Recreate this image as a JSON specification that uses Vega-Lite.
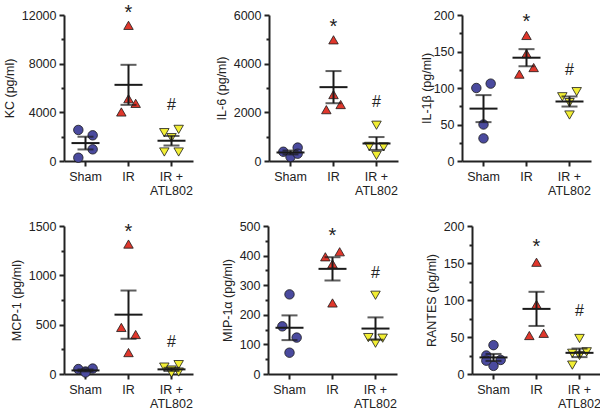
{
  "$schema": "https://vega.github.io/schema/vega-lite/v6.json",
  "padding": {"left": 3, "top": 2, "right": 0, "bottom": 0},
  "background": "white",
  "datasets": {
    "pts": [
      {"panel": "KC", "group": "Sham", "value": 2550, "lane": -1},
      {"panel": "KC", "group": "Sham", "value": 2110, "lane": 1},
      {"panel": "KC", "group": "Sham", "value": 960, "lane": 1},
      {"panel": "KC", "group": "Sham", "value": 270, "lane": -1},
      {"panel": "KC", "group": "IR", "value": 11150, "lane": 0},
      {"panel": "KC", "group": "IR", "value": 5120, "lane": 0},
      {"panel": "KC", "group": "IR", "value": 4740, "lane": 1},
      {"panel": "KC", "group": "IR", "value": 4030, "lane": -1},
      {"panel": "KC", "group": "IR + ATL802", "value": 2330, "lane": -1},
      {"panel": "KC", "group": "IR + ATL802", "value": 2600, "lane": 1},
      {"panel": "KC", "group": "IR + ATL802", "value": 1920, "lane": 0},
      {"panel": "KC", "group": "IR + ATL802", "value": 740, "lane": -1},
      {"panel": "KC", "group": "IR + ATL802", "value": 740, "lane": 1},

      {"panel": "IL6", "group": "Sham", "value": 380, "lane": -1},
      {"panel": "IL6", "group": "Sham", "value": 170, "lane": 0},
      {"panel": "IL6", "group": "Sham", "value": 550, "lane": 1},
      {"panel": "IL6", "group": "Sham", "value": 300, "lane": 1},
      {"panel": "IL6", "group": "IR", "value": 4980, "lane": 0},
      {"panel": "IL6", "group": "IR", "value": 2730, "lane": 0},
      {"panel": "IL6", "group": "IR", "value": 2320, "lane": 1},
      {"panel": "IL6", "group": "IR", "value": 2110, "lane": -1},
      {"panel": "IL6", "group": "IR + ATL802", "value": 1470, "lane": 0},
      {"panel": "IL6", "group": "IR + ATL802", "value": 600, "lane": -1},
      {"panel": "IL6", "group": "IR + ATL802", "value": 580, "lane": 1},
      {"panel": "IL6", "group": "IR + ATL802", "value": 230, "lane": 0},

      {"panel": "IL1b", "group": "Sham", "value": 100, "lane": -1},
      {"panel": "IL1b", "group": "Sham", "value": 106, "lane": 1},
      {"panel": "IL1b", "group": "Sham", "value": 50, "lane": 0},
      {"panel": "IL1b", "group": "Sham", "value": 31, "lane": 0},
      {"panel": "IL1b", "group": "IR", "value": 172, "lane": 0},
      {"panel": "IL1b", "group": "IR", "value": 147, "lane": 0},
      {"panel": "IL1b", "group": "IR", "value": 128, "lane": 1},
      {"panel": "IL1b", "group": "IR", "value": 119, "lane": -1},
      {"panel": "IL1b", "group": "IR + ATL802", "value": 88, "lane": -1},
      {"panel": "IL1b", "group": "IR + ATL802", "value": 95, "lane": 1},
      {"panel": "IL1b", "group": "IR + ATL802", "value": 63, "lane": 0},
      {"panel": "IL1b", "group": "IR + ATL802", "value": 80, "lane": 0},

      {"panel": "MCP1", "group": "Sham", "value": 50, "lane": -1},
      {"panel": "MCP1", "group": "Sham", "value": 25, "lane": 0},
      {"panel": "MCP1", "group": "Sham", "value": 55, "lane": 1},
      {"panel": "MCP1", "group": "Sham", "value": 15, "lane": 0},
      {"panel": "MCP1", "group": "IR", "value": 1317, "lane": 0},
      {"panel": "MCP1", "group": "IR", "value": 472, "lane": -1},
      {"panel": "MCP1", "group": "IR", "value": 400, "lane": 1},
      {"panel": "MCP1", "group": "IR", "value": 217, "lane": 0},
      {"panel": "MCP1", "group": "IR + ATL802", "value": 70, "lane": -1},
      {"panel": "MCP1", "group": "IR + ATL802", "value": 95, "lane": 1},
      {"panel": "MCP1", "group": "IR + ATL802", "value": 40, "lane": 0},
      {"panel": "MCP1", "group": "IR + ATL802", "value": 10, "lane": 0},
      {"panel": "MCP1", "group": "IR + ATL802", "value": 20, "lane": 1},

      {"panel": "MIP1a", "group": "Sham", "value": 269, "lane": 0},
      {"panel": "MIP1a", "group": "Sham", "value": 161, "lane": -1},
      {"panel": "MIP1a", "group": "Sham", "value": 123, "lane": 1},
      {"panel": "MIP1a", "group": "Sham", "value": 72, "lane": 0},
      {"panel": "MIP1a", "group": "IR", "value": 396, "lane": -1},
      {"panel": "MIP1a", "group": "IR", "value": 413, "lane": 1},
      {"panel": "MIP1a", "group": "IR", "value": 372, "lane": 0},
      {"panel": "MIP1a", "group": "IR", "value": 240, "lane": 0},
      {"panel": "MIP1a", "group": "IR + ATL802", "value": 266, "lane": 0},
      {"panel": "MIP1a", "group": "IR + ATL802", "value": 123, "lane": -1},
      {"panel": "MIP1a", "group": "IR + ATL802", "value": 121, "lane": 1},
      {"panel": "MIP1a", "group": "IR + ATL802", "value": 104, "lane": 0},

      {"panel": "RANTES", "group": "Sham", "value": 39, "lane": 0},
      {"panel": "RANTES", "group": "Sham", "value": 25, "lane": -1},
      {"panel": "RANTES", "group": "Sham", "value": 19, "lane": 1},
      {"panel": "RANTES", "group": "Sham", "value": 11, "lane": 0},
      {"panel": "RANTES", "group": "Sham", "value": 18, "lane": -1},
      {"panel": "RANTES", "group": "IR", "value": 151, "lane": 0},
      {"panel": "RANTES", "group": "IR", "value": 94, "lane": 0},
      {"panel": "RANTES", "group": "IR", "value": 52, "lane": -1},
      {"panel": "RANTES", "group": "IR", "value": 55, "lane": 1},
      {"panel": "RANTES", "group": "IR + ATL802", "value": 48, "lane": 0},
      {"panel": "RANTES", "group": "IR + ATL802", "value": 28, "lane": -1},
      {"panel": "RANTES", "group": "IR + ATL802", "value": 30, "lane": 1},
      {"panel": "RANTES", "group": "IR + ATL802", "value": 25, "lane": 0},
      {"panel": "RANTES", "group": "IR + ATL802", "value": 12, "lane": -1}
    ],
    "ann": [
      {"panel": "KC", "group": "IR", "value": 12600, "label": "*"},
      {"panel": "KC", "group": "IR + ATL802", "value": 4700, "label": "#"},
      {"panel": "IL6", "group": "IR", "value": 5700, "label": "*"},
      {"panel": "IL6", "group": "IR + ATL802", "value": 2450, "label": "#"},
      {"panel": "IL1b", "group": "IR", "value": 197, "label": "*"},
      {"panel": "IL1b", "group": "IR + ATL802", "value": 126, "label": "#"},
      {"panel": "MCP1", "group": "IR", "value": 1490, "label": "*"},
      {"panel": "MCP1", "group": "IR + ATL802", "value": 337, "label": "#"},
      {"panel": "MIP1a", "group": "IR", "value": 482, "label": "*"},
      {"panel": "MIP1a", "group": "IR + ATL802", "value": 345, "label": "#"},
      {"panel": "RANTES", "group": "IR", "value": 178, "label": "*"},
      {"panel": "RANTES", "group": "IR + ATL802", "value": 87, "label": "#"}
    ]
  },
  "vconcat": [
    {
      "hconcat": [
        {
          "width": 129, "height": 146,
          "encoding": {
            "x": {"field": "group", "type": "nominal", "sort": ["Sham", "IR", "IR + ATL802"], "scale": {"type": "band", "paddingInner": 0, "paddingOuter": 0}, "axis": {"title": null, "labelAngle": 0, "labelExpr": "datum.value === 'IR + ATL802' ? ['IR +', 'ATL802'] : datum.value"}},
            "y": {"field": "value", "type": "quantitative", "scale": {"domain": [0, 12000], "nice": false}, "axis": {"title": "KC (pg/ml)", "values": [0, 2000, 4000, 6000, 8000, 10000, 12000], "format": "d", "labelExpr": "datum.value % 4000 === 0 ? datum.label : ''", "tickSize": {"condition": {"test": "datum.value % 4000 === 0", "value": 5}, "value": 3}}}
          },
          "layer": [
            {"data": {"name": "pts"}, "transform": [{"filter": "datum.panel === 'KC'"}], "mark": {"type": "point", "filled": true, "size": 90, "stroke": "#1a1a1a", "strokeWidth": 0.8, "opacity": 1},
             "encoding": {"xOffset": {"field": "lane", "type": "quantitative", "scale": {"domain": [-3, 3]}}, "shape": {"field": "group", "type": "nominal", "scale": {"domain": ["Sham", "IR", "IR + ATL802"], "range": ["circle", "triangle-up", "triangle-down"]}, "legend": null}, "fill": {"field": "group", "type": "nominal", "scale": {"domain": ["Sham", "IR", "IR + ATL802"], "range": ["#4a4a9e", "#e0372c", "#f2ee34"]}, "legend": null}}},
            {"data": {"name": "pts"}, "transform": [{"filter": "datum.panel === 'KC'"}], "mark": {"type": "errorbar", "extent": "stderr", "ticks": {"size": 16}, "thickness": 2, "color": "#1a1a1a"}},
            {"data": {"name": "pts"}, "transform": [{"filter": "datum.panel === 'KC'"}], "mark": {"type": "tick", "size": 28, "thickness": 2, "color": "#1a1a1a"}, "encoding": {"y": {"aggregate": "mean", "field": "value", "type": "quantitative"}}},
            {"data": {"name": "ann"}, "transform": [{"filter": "datum.panel === 'KC' && datum.label === '*'"}], "mark": {"type": "text", "fontSize": 20, "baseline": "alphabetic", "dy": 11, "color": "#222"}, "encoding": {"text": {"field": "label"}}},
            {"data": {"name": "ann"}, "transform": [{"filter": "datum.panel === 'KC' && datum.label === '#'"}], "mark": {"type": "text", "fontSize": 16, "baseline": "alphabetic", "dy": 6, "color": "#222"}, "encoding": {"text": {"field": "label"}}}
          ]
        },
        {
          "width": 129, "height": 146,
          "encoding": {
            "x": {"field": "group", "type": "nominal", "sort": ["Sham", "IR", "IR + ATL802"], "scale": {"type": "band", "paddingInner": 0, "paddingOuter": 0}, "axis": {"title": null, "labelAngle": 0, "labelExpr": "datum.value === 'IR + ATL802' ? ['IR +', 'ATL802'] : datum.value"}},
            "y": {"field": "value", "type": "quantitative", "scale": {"domain": [0, 6000], "nice": false}, "axis": {"title": "IL-6 (pg/ml)", "values": [0, 1000, 2000, 3000, 4000, 5000, 6000], "format": "d", "labelExpr": "datum.value % 2000 === 0 ? datum.label : ''", "tickSize": {"condition": {"test": "datum.value % 2000 === 0", "value": 5}, "value": 3}}}
          },
          "layer": [
            {"data": {"name": "pts"}, "transform": [{"filter": "datum.panel === 'IL6'"}], "mark": {"type": "point", "filled": true, "size": 90, "stroke": "#1a1a1a", "strokeWidth": 0.8, "opacity": 1},
             "encoding": {"xOffset": {"field": "lane", "type": "quantitative", "scale": {"domain": [-3, 3]}}, "shape": {"field": "group", "type": "nominal", "scale": {"domain": ["Sham", "IR", "IR + ATL802"], "range": ["circle", "triangle-up", "triangle-down"]}, "legend": null}, "fill": {"field": "group", "type": "nominal", "scale": {"domain": ["Sham", "IR", "IR + ATL802"], "range": ["#4a4a9e", "#e0372c", "#f2ee34"]}, "legend": null}}},
            {"data": {"name": "pts"}, "transform": [{"filter": "datum.panel === 'IL6'"}], "mark": {"type": "errorbar", "extent": "stderr", "ticks": {"size": 16}, "thickness": 2, "color": "#1a1a1a"}},
            {"data": {"name": "pts"}, "transform": [{"filter": "datum.panel === 'IL6'"}], "mark": {"type": "tick", "size": 28, "thickness": 2, "color": "#1a1a1a"}, "encoding": {"y": {"aggregate": "mean", "field": "value", "type": "quantitative"}}},
            {"data": {"name": "ann"}, "transform": [{"filter": "datum.panel === 'IL6' && datum.label === '*'"}], "mark": {"type": "text", "fontSize": 20, "baseline": "alphabetic", "dy": 11, "color": "#222"}, "encoding": {"text": {"field": "label"}}},
            {"data": {"name": "ann"}, "transform": [{"filter": "datum.panel === 'IL6' && datum.label === '#'"}], "mark": {"type": "text", "fontSize": 16, "baseline": "alphabetic", "dy": 6, "color": "#222"}, "encoding": {"text": {"field": "label"}}}
          ]
        },
        {
          "width": 129, "height": 146,
          "encoding": {
            "x": {"field": "group", "type": "nominal", "sort": ["Sham", "IR", "IR + ATL802"], "scale": {"type": "band", "paddingInner": 0, "paddingOuter": 0}, "axis": {"title": null, "labelAngle": 0, "labelExpr": "datum.value === 'IR + ATL802' ? ['IR +', 'ATL802'] : datum.value"}},
            "y": {"field": "value", "type": "quantitative", "scale": {"domain": [0, 200], "nice": false}, "axis": {"title": "IL-1β (pg/ml)", "titlePadding": 0, "values": [0, 25, 50, 75, 100, 125, 150, 175, 200], "format": "d", "labelExpr": "datum.value % 50 === 0 ? datum.label : ''", "tickSize": {"condition": {"test": "datum.value % 50 === 0", "value": 5}, "value": 3}}}
          },
          "layer": [
            {"data": {"name": "pts"}, "transform": [{"filter": "datum.panel === 'IL1b'"}], "mark": {"type": "point", "filled": true, "size": 90, "stroke": "#1a1a1a", "strokeWidth": 0.8, "opacity": 1},
             "encoding": {"xOffset": {"field": "lane", "type": "quantitative", "scale": {"domain": [-3, 3]}}, "shape": {"field": "group", "type": "nominal", "scale": {"domain": ["Sham", "IR", "IR + ATL802"], "range": ["circle", "triangle-up", "triangle-down"]}, "legend": null}, "fill": {"field": "group", "type": "nominal", "scale": {"domain": ["Sham", "IR", "IR + ATL802"], "range": ["#4a4a9e", "#e0372c", "#f2ee34"]}, "legend": null}}},
            {"data": {"name": "pts"}, "transform": [{"filter": "datum.panel === 'IL1b'"}], "mark": {"type": "errorbar", "extent": "stderr", "ticks": {"size": 16}, "thickness": 2, "color": "#1a1a1a"}},
            {"data": {"name": "pts"}, "transform": [{"filter": "datum.panel === 'IL1b'"}], "mark": {"type": "tick", "size": 28, "thickness": 2, "color": "#1a1a1a"}, "encoding": {"y": {"aggregate": "mean", "field": "value", "type": "quantitative"}}},
            {"data": {"name": "ann"}, "transform": [{"filter": "datum.panel === 'IL1b' && datum.label === '*'"}], "mark": {"type": "text", "fontSize": 20, "baseline": "alphabetic", "dy": 11, "color": "#222"}, "encoding": {"text": {"field": "label"}}},
            {"data": {"name": "ann"}, "transform": [{"filter": "datum.panel === 'IL1b' && datum.label === '#'"}], "mark": {"type": "text", "fontSize": 16, "baseline": "alphabetic", "dy": 6, "color": "#222"}, "encoding": {"text": {"field": "label"}}}
          ]
        }
      ],
      "spacing": 22
    },
    {
      "hconcat": [
        {
          "width": 129, "height": 148,
          "encoding": {
            "x": {"field": "group", "type": "nominal", "sort": ["Sham", "IR", "IR + ATL802"], "scale": {"type": "band", "paddingInner": 0, "paddingOuter": 0}, "axis": {"title": null, "labelAngle": 0, "labelExpr": "datum.value === 'IR + ATL802' ? ['IR +', 'ATL802'] : datum.value"}},
            "y": {"field": "value", "type": "quantitative", "scale": {"domain": [0, 1500], "nice": false}, "axis": {"title": "MCP-1 (pg/ml)", "titlePadding": 5, "values": [0, 250, 500, 750, 1000, 1250, 1500], "format": "d", "labelExpr": "datum.value % 500 === 0 ? datum.label : ''", "tickSize": {"condition": {"test": "datum.value % 500 === 0", "value": 5}, "value": 3}}}
          },
          "layer": [
            {"data": {"name": "pts"}, "transform": [{"filter": "datum.panel === 'MCP1'"}], "mark": {"type": "point", "filled": true, "size": 90, "stroke": "#1a1a1a", "strokeWidth": 0.8, "opacity": 1},
             "encoding": {"xOffset": {"field": "lane", "type": "quantitative", "scale": {"domain": [-3, 3]}}, "shape": {"field": "group", "type": "nominal", "scale": {"domain": ["Sham", "IR", "IR + ATL802"], "range": ["circle", "triangle-up", "triangle-down"]}, "legend": null}, "fill": {"field": "group", "type": "nominal", "scale": {"domain": ["Sham", "IR", "IR + ATL802"], "range": ["#4a4a9e", "#e0372c", "#f2ee34"]}, "legend": null}}},
            {"data": {"name": "pts"}, "transform": [{"filter": "datum.panel === 'MCP1'"}], "mark": {"type": "errorbar", "extent": "stderr", "ticks": {"size": 16}, "thickness": 2, "color": "#1a1a1a"}},
            {"data": {"name": "pts"}, "transform": [{"filter": "datum.panel === 'MCP1'"}], "mark": {"type": "tick", "size": 28, "thickness": 2, "color": "#1a1a1a"}, "encoding": {"y": {"aggregate": "mean", "field": "value", "type": "quantitative"}}},
            {"data": {"name": "ann"}, "transform": [{"filter": "datum.panel === 'MCP1' && datum.label === '*'"}], "mark": {"type": "text", "fontSize": 20, "baseline": "alphabetic", "dy": 11, "color": "#222"}, "encoding": {"text": {"field": "label"}}},
            {"data": {"name": "ann"}, "transform": [{"filter": "datum.panel === 'MCP1' && datum.label === '#'"}], "mark": {"type": "text", "fontSize": 16, "baseline": "alphabetic", "dy": 6, "color": "#222"}, "encoding": {"text": {"field": "label"}}}
          ]
        },
        {
          "width": 129, "height": 148,
          "encoding": {
            "x": {"field": "group", "type": "nominal", "sort": ["Sham", "IR", "IR + ATL802"], "scale": {"type": "band", "paddingInner": 0, "paddingOuter": 0}, "axis": {"title": null, "labelAngle": 0, "labelExpr": "datum.value === 'IR + ATL802' ? ['IR +', 'ATL802'] : datum.value"}},
            "y": {"field": "value", "type": "quantitative", "scale": {"domain": [0, 500], "nice": false}, "axis": {"title": "MIP-1α (pg/ml)", "values": [0, 50, 100, 150, 200, 250, 300, 350, 400, 450, 500], "format": "d", "labelExpr": "datum.value % 100 === 0 ? datum.label : ''", "tickSize": {"condition": {"test": "datum.value % 100 === 0", "value": 5}, "value": 3}}}
          },
          "layer": [
            {"data": {"name": "pts"}, "transform": [{"filter": "datum.panel === 'MIP1a'"}], "mark": {"type": "point", "filled": true, "size": 90, "stroke": "#1a1a1a", "strokeWidth": 0.8, "opacity": 1},
             "encoding": {"xOffset": {"field": "lane", "type": "quantitative", "scale": {"domain": [-3, 3]}}, "shape": {"field": "group", "type": "nominal", "scale": {"domain": ["Sham", "IR", "IR + ATL802"], "range": ["circle", "triangle-up", "triangle-down"]}, "legend": null}, "fill": {"field": "group", "type": "nominal", "scale": {"domain": ["Sham", "IR", "IR + ATL802"], "range": ["#4a4a9e", "#e0372c", "#f2ee34"]}, "legend": null}}},
            {"data": {"name": "pts"}, "transform": [{"filter": "datum.panel === 'MIP1a'"}], "mark": {"type": "errorbar", "extent": "stderr", "ticks": {"size": 16}, "thickness": 2, "color": "#1a1a1a"}},
            {"data": {"name": "pts"}, "transform": [{"filter": "datum.panel === 'MIP1a'"}], "mark": {"type": "tick", "size": 28, "thickness": 2, "color": "#1a1a1a"}, "encoding": {"y": {"aggregate": "mean", "field": "value", "type": "quantitative"}}},
            {"data": {"name": "ann"}, "transform": [{"filter": "datum.panel === 'MIP1a' && datum.label === '*'"}], "mark": {"type": "text", "fontSize": 20, "baseline": "alphabetic", "dy": 11, "color": "#222"}, "encoding": {"text": {"field": "label"}}},
            {"data": {"name": "ann"}, "transform": [{"filter": "datum.panel === 'MIP1a' && datum.label === '#'"}], "mark": {"type": "text", "fontSize": 16, "baseline": "alphabetic", "dy": 6, "color": "#222"}, "encoding": {"text": {"field": "label"}}}
          ]
        },
        {
          "width": 129, "height": 148,
          "encoding": {
            "x": {"field": "group", "type": "nominal", "sort": ["Sham", "IR", "IR + ATL802"], "scale": {"type": "band", "paddingInner": 0, "paddingOuter": 0}, "axis": {"title": null, "labelAngle": 0, "labelExpr": "datum.value === 'IR + ATL802' ? ['IR +', 'ATL802'] : datum.value"}},
            "y": {"field": "value", "type": "quantitative", "scale": {"domain": [0, 200], "nice": false}, "axis": {"title": "RANTES (pg/ml)", "values": [0, 25, 50, 75, 100, 125, 150, 175, 200], "format": "d", "labelExpr": "datum.value % 50 === 0 ? datum.label : ''", "tickSize": {"condition": {"test": "datum.value % 50 === 0", "value": 5}, "value": 3}}}
          },
          "layer": [
            {"data": {"name": "pts"}, "transform": [{"filter": "datum.panel === 'RANTES'"}], "mark": {"type": "point", "filled": true, "size": 90, "stroke": "#1a1a1a", "strokeWidth": 0.8, "opacity": 1},
             "encoding": {"xOffset": {"field": "lane", "type": "quantitative", "scale": {"domain": [-3, 3]}}, "shape": {"field": "group", "type": "nominal", "scale": {"domain": ["Sham", "IR", "IR + ATL802"], "range": ["circle", "triangle-up", "triangle-down"]}, "legend": null}, "fill": {"field": "group", "type": "nominal", "scale": {"domain": ["Sham", "IR", "IR + ATL802"], "range": ["#4a4a9e", "#e0372c", "#f2ee34"]}, "legend": null}}},
            {"data": {"name": "pts"}, "transform": [{"filter": "datum.panel === 'RANTES'"}], "mark": {"type": "errorbar", "extent": "stderr", "ticks": {"size": 16}, "thickness": 2, "color": "#1a1a1a"}},
            {"data": {"name": "pts"}, "transform": [{"filter": "datum.panel === 'RANTES'"}], "mark": {"type": "tick", "size": 28, "thickness": 2, "color": "#1a1a1a"}, "encoding": {"y": {"aggregate": "mean", "field": "value", "type": "quantitative"}}},
            {"data": {"name": "ann"}, "transform": [{"filter": "datum.panel === 'RANTES' && datum.label === '*'"}], "mark": {"type": "text", "fontSize": 20, "baseline": "alphabetic", "dy": 11, "color": "#222"}, "encoding": {"text": {"field": "label"}}},
            {"data": {"name": "ann"}, "transform": [{"filter": "datum.panel === 'RANTES' && datum.label === '#'"}], "mark": {"type": "text", "fontSize": 16, "baseline": "alphabetic", "dy": 6, "color": "#222"}, "encoding": {"text": {"field": "label"}}}
          ]
        }
      ],
      "spacing": 28
    }
  ],
  "spacing": 23,
  "config": {
    "font": "Liberation Sans",
    "view": {"stroke": null},
    "axis": {"grid": false, "labelFont": "Liberation Sans", "titleFont": "Liberation Sans", "labelFontSize": 12.5, "titleFontSize": 12.5, "titleFontWeight": "normal", "labelColor": "#222", "titleColor": "#222", "domainColor": "#222", "tickColor": "#222", "domainWidth": 2, "tickWidth": 2, "labelPadding": 3, "titlePadding": 5},
    "axisX": {"tickSize": 5, "labelLineHeight": 14, "labelPadding": 4}
  }
}
